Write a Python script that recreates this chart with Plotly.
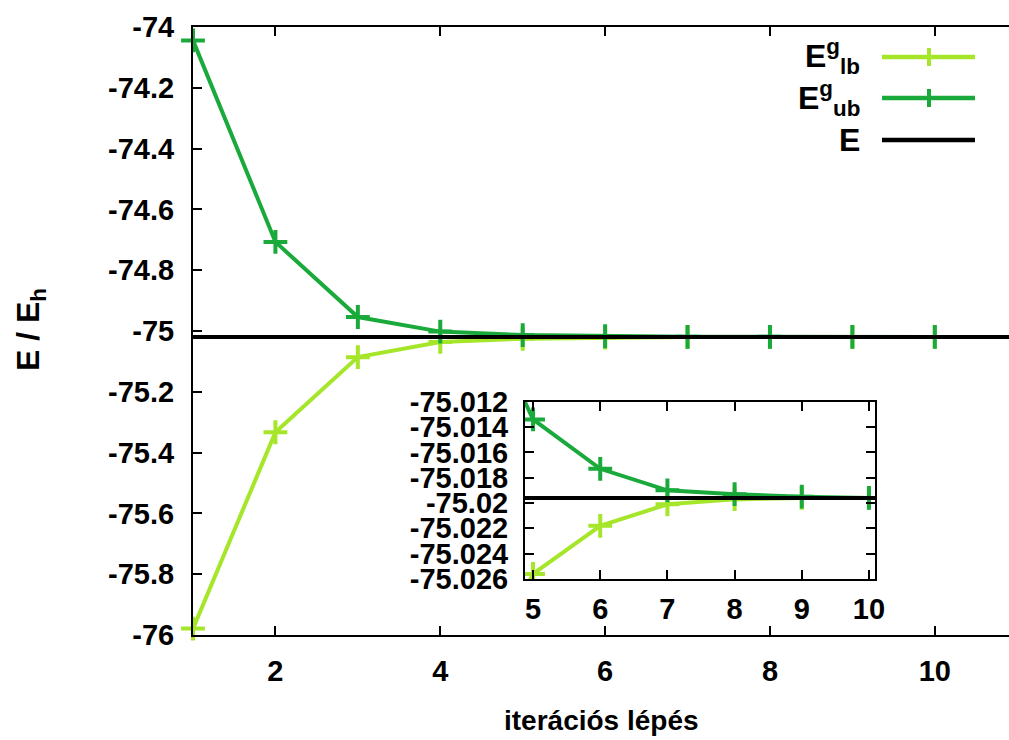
import plotly.graph_objects as go

# ---- data ----
steps = [1, 2, 3, 4, 5, 6, 7, 8, 9, 10]
E_lb = [-75.979, -75.333, -75.086, -75.036, -75.0256, -75.0218, -75.0201, -75.0197, -75.0196, -75.0196]
E_ub = [-74.044, -74.707, -74.954, -75.002, -75.0134, -75.0173, -75.0190, -75.0193, -75.0195, -75.0196]
E_exact = -75.0196

main_yticks = [-74.0, -74.2, -74.4, -74.6, -74.8, -75.0, -75.2, -75.4, -75.6, -75.8, -76.0]
main_ylabels = ["-74", "-74.2", "-74.4", "-74.6", "-74.8", "-75", "-75.2", "-75.4", "-75.6", "-75.8", "-76"]
main_xticks = [2, 4, 6, 8, 10]
inset_yticks = [-75.012, -75.014, -75.016, -75.018, -75.020, -75.022, -75.024, -75.026]
inset_ylabels = ["-75.012", "-75.014", "-75.016", "-75.018", "-75.02", "-75.022", "-75.024", "-75.026"]
inset_xticks = [5, 6, 7, 8, 9, 10]

C_LB = "#a6e62a"
C_UB = "#1aaa3c"
FONT = "Liberation Sans Narrow, Arial Narrow, Liberation Sans, Arial, sans-serif"

W, H = 1009, 740
L, R, T, B = 193, 1009, 27, 635


def px(x):
    return (x - L) / (R - L)


def py(y):
    return (B - y) / (B - T)


fig = go.Figure()

for xa, ya, clip in (("x", "y", False), ("x2", "y2", True)):
    fig.add_trace(go.Scatter(x=steps, y=E_lb, mode="lines+markers", xaxis=xa, yaxis=ya,
                             line=dict(color=C_LB, width=4),
                             marker=dict(symbol="cross-thin", size=17, color=C_LB,
                                         line=dict(width=4, color=C_LB)),
                             showlegend=False, cliponaxis=clip))
    fig.add_trace(go.Scatter(x=steps, y=E_ub, mode="lines+markers", xaxis=xa, yaxis=ya,
                             line=dict(color=C_UB, width=4),
                             marker=dict(symbol="cross-thin", size=17, color=C_UB,
                                         line=dict(width=4, color=C_UB)),
                             showlegend=False, cliponaxis=clip))
    fig.add_trace(go.Scatter(x=[0, 12], y=[E_exact, E_exact], mode="lines", xaxis=xa, yaxis=ya,
                             line=dict(color="black", width=4), showlegend=False, cliponaxis=True))

tickfont = dict(family=FONT, size=29, color="black", weight="bold")

common = dict(ticks="inside", ticklen=9, tickwidth=1.5, tickcolor="black", showline=True,
              linecolor="black", linewidth=2, showgrid=False, zeroline=False, tickfont=tickfont,
              automargin=False)

fig.update_layout(
    template="none",
    width=W, height=H, autosize=False,
    margin=dict(l=L, r=W - R, t=T, b=H - B, pad=0, autoexpand=False),
    plot_bgcolor="white", paper_bgcolor="white",
    showlegend=False,
    xaxis=dict(range=[1, 10.9], tickvals=main_xticks, mirror="ticks", ticklabelstandoff=9, **common),
    yaxis=dict(range=[-76, -74], tickvals=main_yticks, ticktext=main_ylabels, mirror=False,
               ticklabelstandoff=11, **common),
    xaxis2=dict(domain=[px(525), px(875)], anchor="y2", range=[4.88, 10.09], tickvals=inset_xticks,
                mirror="ticks", ticklabelstandoff=3, **common),
    yaxis2=dict(domain=[py(579), py(401.7)], anchor="x2", range=[-75.026, -75.012],
                tickvals=inset_yticks, ticktext=inset_ylabels, mirror="ticks",
                ticklabelstandoff=9, **common),
)

titlefont = dict(family=FONT, size=28, color="black", weight="bold")
legfont = dict(family=FONT, size=32, color="black", weight="bold")
ann = [
    dict(text="iterációs lépés", x=0.5, y=py(720), xref="paper", yref="paper",
         xanchor="center", yanchor="middle", showarrow=False, font=titlefont),
    dict(text="E / E<sub>h</sub>", x=px(30), y=py(330), xref="paper", yref="paper",
         xanchor="center", yanchor="middle", textangle=-90, showarrow=False, font=legfont),
]

# legend (gnuplot style: text left, sample right)
leg = [("E<sup>g</sup><sub>lb</sub>", C_LB, True, 57),
       ("E<sup>g</sup><sub>ub</sub>", C_UB, True, 98),
       ("E", "black", False, 140)]
shapes = []
for label, col, has_mk, yy in leg:
    ann.append(dict(text=label, x=px(862), y=py(yy), xref="paper", yref="paper",
                    xanchor="right", yanchor="middle", showarrow=False, font=legfont))
    shapes.append(dict(type="line", xref="paper", yref="paper", x0=px(882), x1=px(975),
                       y0=py(yy), y1=py(yy), line=dict(color=col, width=4.5)))
    if has_mk:
        shapes.append(dict(type="line", xref="paper", yref="paper", x0=px(929), x1=px(929),
                           y0=py(yy - 9), y1=py(yy + 9), line=dict(color=col, width=4)))

fig.update_layout(annotations=ann, shapes=shapes)

fig.write_html("out.html", config={"displayModeBar": False},
               post_script="document.body.style.margin='0';document.body.style.overflow='hidden';")
